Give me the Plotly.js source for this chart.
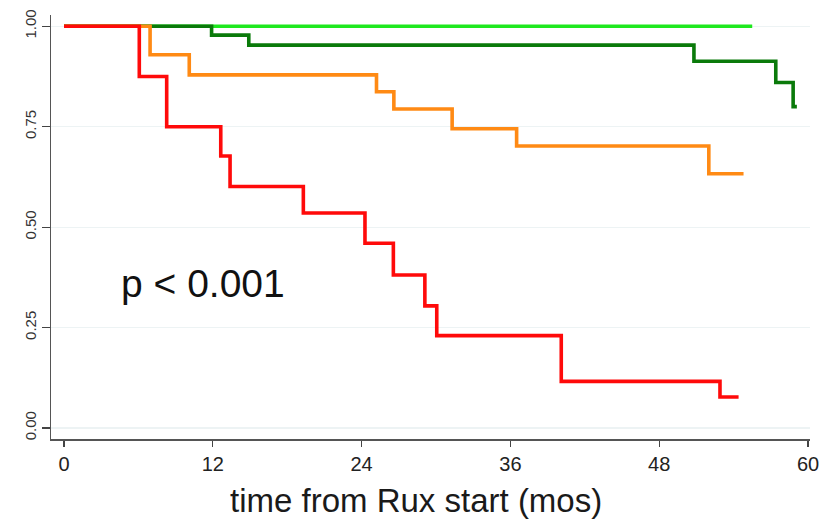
<!DOCTYPE html>
<html>
<head>
<meta charset="utf-8">
<script src="https://cdn.plot.ly/plotly-3.0.1.min.js"></script>
<style>html,body{margin:0;padding:0;background:#fff;}#chart{width:829px;height:523px;}</style>
</head>
<body>
<div id="chart"></div>
<script>
// Kaplan-Meier step data (time in months, survival proportion)
const limeTime = [0, 55.5];
const limeSurv = [1.0, 1.0];

const darkGreenTime = [0, 11.9, 14.9, 50.8, 57.4, 58.8, 59.1];
const darkGreenSurv = [1.0, 0.978, 0.953, 0.913, 0.86, 0.80, 0.80];

const orangeTime = [0, 6.94, 10.1, 25.2, 26.6, 31.3, 36.5, 52.0, 54.8];
const orangeSurv = [1.0, 0.929, 0.879, 0.837, 0.794, 0.745, 0.702, 0.633, 0.633];

const redTime = [0, 6.07, 8.28, 12.64, 13.39, 19.3, 24.27, 26.56, 29.1, 30.06, 40.1, 52.9, 54.4];
const redSurv = [1.0, 0.875, 0.75, 0.677, 0.601, 0.535, 0.46, 0.381, 0.304, 0.23, 0.116, 0.077, 0.077];

const xTicks = [0, 12, 24, 36, 48, 60];
const yTicks = [0, 0.25, 0.5, 0.75, 1.0];
const yTickText = ['0.00', '0.25', '0.50', '0.75', '1.00'];

const pText = 'p < 0.001';
const xTitle = 'time from Rux start (mos)';

function stepTrace(x, y, color) {
  return {x: x, y: y, type: 'scatter', mode: 'lines',
          line: {shape: 'hv', color: color, width: 3.6}, hoverinfo: 'skip', showlegend: false};
}

const traces = [
  stepTrace(limeTime, limeSurv, '#1ee81e'),
  stepTrace(darkGreenTime, darkGreenSurv, '#0a7a0a'),
  stepTrace(orangeTime, orangeSurv, '#ff8a14'),
  stepTrace(redTime, redSurv, '#ff0a0a')
];

const font = 'Liberation Sans, Arial, sans-serif';

const layout = {
  width: 829, height: 523,
  margin: {l: 51, r: 19, t: 15, b: 84},
  paper_bgcolor: '#ffffff', plot_bgcolor: '#ffffff',
  showlegend: false,
  font: {family: font, color: '#333'},
  xaxis: {
    range: [-1.05, 60.16], tickvals: xTicks, ticktext: xTicks.map(String),
    showgrid: false, zeroline: false, showline: true, linecolor: '#555', linewidth: 1.5,
    ticks: 'outside', ticklen: 6, tickwidth: 1.2, tickcolor: '#444',
    tickfont: {size: 20, color: '#222', family: font}
  },
  yaxis: {
    range: [-0.0274, 1.028], tickvals: yTicks, ticktext: yTickText, tickangle: -90,
    showgrid: true, gridcolor: '#edf3f4', gridwidth: 1.2, zeroline: false,
    showline: true, linecolor: '#555', linewidth: 1.5,
    ticks: 'outside', ticklen: 8, tickwidth: 1.2, tickcolor: '#444',
    tickfont: {size: 15, color: '#333', family: font}
  },
  annotations: [{
    x: 11.2, y: 0.36, xref: 'x', yref: 'y', text: pText, showarrow: false,
    font: {size: 39, color: '#111', family: font}, xanchor: 'center', yanchor: 'middle'
  }, {
    x: 0.481, y: -0.145, xref: 'paper', yref: 'paper', text: xTitle, showarrow: false,
    font: {size: 33, color: '#1a1a1a', family: font}, xanchor: 'center', yanchor: 'middle'
  }]
};

Plotly.newPlot('chart', traces, layout, {staticPlot: true, displayModeBar: false});
</script>
</body>
</html>
